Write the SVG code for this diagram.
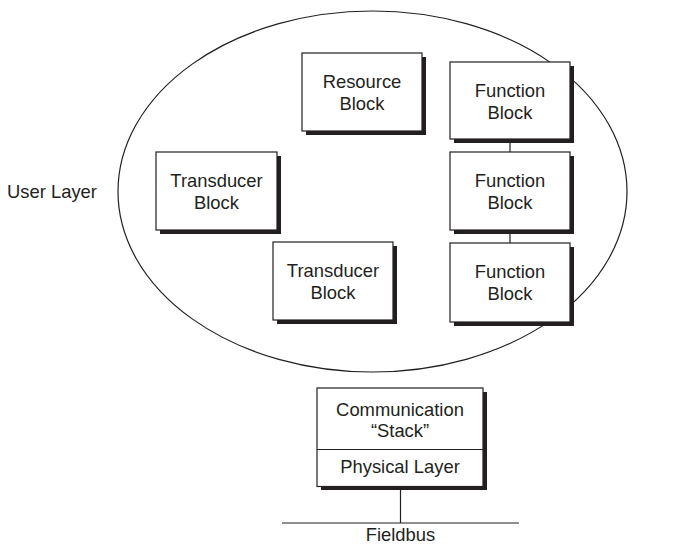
<svg xmlns="http://www.w3.org/2000/svg" width="675" height="545" viewBox="0 0 675 545">
<style>
.box{fill:#fff;stroke:#231f20;stroke-width:1.2}
.sh{fill:#231f20}
.t{font-family:"Liberation Sans",Arial,sans-serif;font-size:18.4px;fill:#231f20;text-anchor:middle}
.ln{stroke:#231f20;stroke-width:1.2;fill:none}
</style>
<rect width="675" height="545" fill="#fff"/>
<g id="user-layer">
<ellipse cx="372.5" cy="191.5" rx="254.5" ry="180.5" class="ln"/>
<text x="52" y="198" class="t">User Layer</text>
</g>
<g id="connectors">
<line x1="510" y1="143" x2="510" y2="152" class="ln"/>
<line x1="510" y1="234" x2="510" y2="243" class="ln"/>
<line x1="400.5" y1="490" x2="400.5" y2="523" class="ln"/>
</g>
<g id="resource-block">
<rect x="306" y="57" width="120" height="78" class="sh"/>
<rect x="302" y="53" width="120" height="78" class="box"/>
<text x="362" y="88" class="t">Resource</text>
<text x="362" y="110" class="t">Block</text>
</g>
<g id="function-block-1">
<rect x="454" y="66" width="120" height="77" class="sh"/>
<rect x="450" y="62" width="120" height="77" class="box"/>
<text x="510" y="97" class="t">Function</text>
<text x="510" y="119" class="t">Block</text>
</g>
<g id="function-block-2">
<rect x="454" y="156" width="120" height="78" class="sh"/>
<rect x="450" y="152" width="120" height="78" class="box"/>
<text x="510" y="187" class="t">Function</text>
<text x="510" y="209" class="t">Block</text>
</g>
<g id="function-block-3">
<rect x="454" y="247" width="120" height="79" class="sh"/>
<rect x="450" y="243" width="120" height="79" class="box"/>
<text x="510" y="278" class="t">Function</text>
<text x="510" y="300" class="t">Block</text>
</g>
<g id="transducer-block-1">
<rect x="160" y="156" width="121" height="78" class="sh"/>
<rect x="156" y="152" width="121" height="78" class="box"/>
<text x="216.5" y="187" class="t">Transducer</text>
<text x="216.5" y="209" class="t">Block</text>
</g>
<g id="transducer-block-2">
<rect x="277" y="246" width="120" height="78" class="sh"/>
<rect x="273" y="242" width="120" height="78" class="box"/>
<text x="333" y="277" class="t">Transducer</text>
<text x="333" y="299" class="t">Block</text>
</g>
<g id="communication-stack">
<rect x="321" y="392" width="166" height="98" class="sh"/>
<rect x="317" y="388" width="166" height="98.5" class="box"/>
<line x1="317" y1="449.5" x2="483" y2="449.5" class="ln"/>
<text x="400" y="415.5" class="t">Communication</text>
<text x="400" y="436.5" class="t">“Stack”</text>
<text x="400" y="473" class="t">Physical Layer</text>
</g>
<g id="fieldbus">
<line x1="282" y1="523" x2="519" y2="523" class="ln"/>
<text x="400.5" y="541" class="t">Fieldbus</text>
</g>
</svg>
